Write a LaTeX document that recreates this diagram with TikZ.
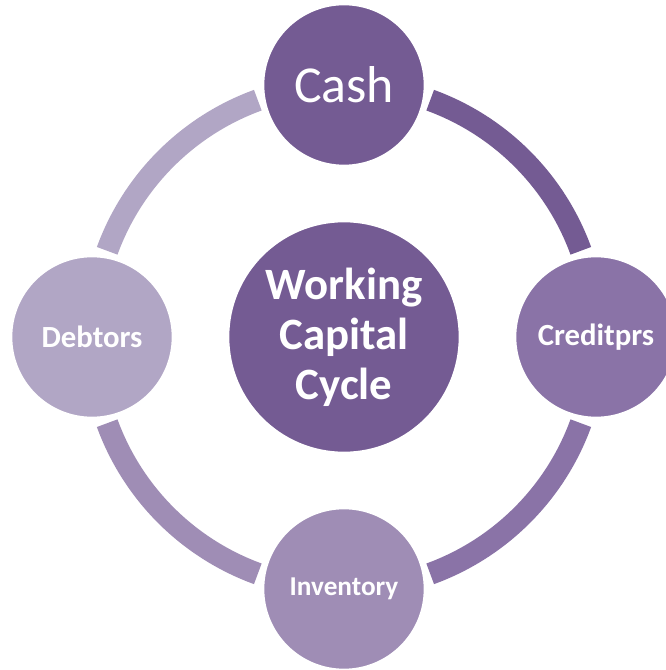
\documentclass[tikz,border=0pt]{standalone}
\usepackage{fontspec}
\setmainfont{Carlito}
\usetikzlibrary{positioning,calc}
\definecolor{cashcol}{HTML}{745B93}
\definecolor{credcol}{HTML}{8A73A7}
\definecolor{invcol}{HTML}{9F8DB5}
\definecolor{debtcol}{HTML}{B1A6C5}
\tikzset{
    hub/.style={
        draw=white,
        line width=1.5pt,
        circle,
        fill=cashcol,
        text=white,
        minimum size=4.64cm,
        inner sep=0pt,
        outer sep=0pt,
        align=center,
        font=\bfseries\fontsize{25.5}{28.5}\selectfont
    },
    stage/.style={
        draw=white,
        line width=1.5pt,
        circle,
        text=white,
        minimum size=3.24cm,
        inner sep=0pt,
        outer sep=0pt,
        font=\bfseries\fontsize{17.5}{20}\selectfont
    },
    ring/.style={
        line width=0.44cm
    },
}

\begin{document}
\begin{tikzpicture}[node distance = 1.10cm]
        \useasboundingbox (-6.88,-6.66) rectangle (6.42,6.74);
        % blocks
        \node[hub] (wcc) at (0,0) {Working\\Capital\\Cycle};
        \node[stage, fill=cashcol, font=\fontsize{29.5}{32}\selectfont, above= of wcc] (cash) {Cash};
        \node[stage, fill=credcol, right= of wcc] (creditors) {Creditprs};
        \node[stage, fill=invcol, font=\bfseries\fontsize{15.5}{18}\selectfont, below= of wcc] (inventory) {Inventory};
        \node[stage, fill=debtcol, left= of wcc] (debtors) {Debtors};

        % ring segments
        \draw[ring, cashcol] ($(wcc.center)+(70:5.04)$) arc[start angle=70, end angle=20, radius=5.04];
        \draw[ring, credcol] ($(wcc.center)+(-20:5.04)$) arc[start angle=-20, end angle=-70, radius=5.04];
        \draw[ring, invcol] ($(wcc.center)+(-110:5.04)$) arc[start angle=-110, end angle=-160, radius=5.04];
        \draw[ring, debtcol] ($(wcc.center)+(160:5.04)$) arc[start angle=160, end angle=110, radius=5.04];
    \end{tikzpicture}
\end{document}
